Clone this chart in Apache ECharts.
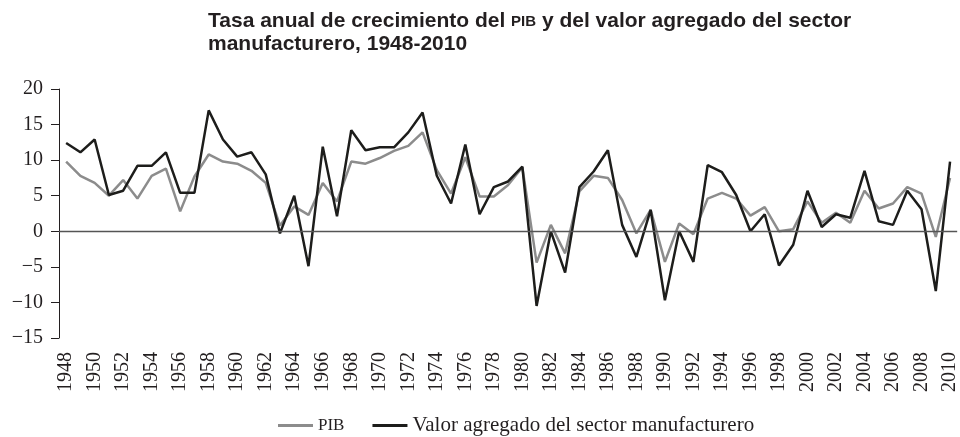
<!DOCTYPE html>
<html>
<head>
<meta charset="utf-8">
<script src="https://cdn.jsdelivr.net/npm/echarts@6/dist/echarts.min.js"></script>
<style>
  html, body { margin: 0; padding: 0; background: #ffffff; }
  #chart { width: 960px; height: 437px; }
</style>
</head>
<body>
<div id="chart"></div>
<script>
const years = [
  '1948', '1949', '1950', '1951', '1952', '1953', '1954', '1955', '1956', '1957',
  '1958', '1959', '1960', '1961', '1962', '1963', '1964', '1965', '1966', '1967',
  '1968', '1969', '1970', '1971', '1972', '1973', '1974', '1975', '1976', '1977',
  '1978', '1979', '1980', '1981', '1982', '1983', '1984', '1985', '1986', '1987',
  '1988', '1989', '1990', '1991', '1992', '1993', '1994', '1995', '1996', '1997',
  '1998', '1999', '2000', '2001', '2002', '2003', '2004', '2005', '2006', '2007',
  '2008', '2009', '2010'
];

// tasa anual del PIB (%)
const pib = [
  9.8, 7.8, 6.8, 5.0, 7.2, 4.6, 7.8, 8.8, 2.8, 7.7,
  10.8, 9.8, 9.5, 8.5, 6.8, 0.8, 3.5, 2.3, 6.8, 4.2,
  9.8, 9.5, 10.3, 11.3, 12.0, 13.9, 8.6, 5.3, 10.4, 4.9,
  4.9, 6.5, 9.0, -4.4, 0.9, -3.1, 5.6, 7.8, 7.5, 4.4,
  -0.3, 3.0, -4.3, 1.1, -0.4, 4.6, 5.4, 4.6, 2.2, 3.4,
  0.0, 0.3, 4.2, 1.2, 2.6, 1.2, 5.7, 3.2, 3.9, 6.2,
  5.3, -0.8, 7.5
];

// valor agregado del sector manufacturero (%)
const manufactura = [
  12.4, 11.1, 12.9, 5.1, 5.7, 9.2, 9.2, 11.1, 5.4, 5.4,
  17.0, 12.9, 10.5, 11.1, 8.0, -0.3, 5.0, -4.9, 11.9, 2.1,
  14.2, 11.4, 11.8, 11.8, 13.9, 16.7, 7.8, 3.9, 12.2, 2.4,
  6.2, 7.0, 9.1, -10.5, 0.0, -5.8, 6.2, 8.4, 11.4, 0.9,
  -3.6, 3.0, -9.7, 0.0, -4.3, 9.3, 8.3, 5.1, 0.0, 2.4,
  -4.8, -1.9, 5.7, 0.6, 2.4, 1.9, 8.5, 1.4, 0.9, 5.7,
  3.1, -8.4, 9.8
];

const serif = '"Liberation Serif", "DejaVu Serif", serif';
const sans = '"Liberation Sans", Arial, sans-serif';

const chart = echarts.init(document.getElementById('chart'));

chart.setOption({
  animation: false,
  backgroundColor: '#ffffff',
  title: {
    text: 'Tasa anual de crecimiento del {sc|PIB} y del valor agregado del sector\nmanufacturero, 1948-2010',
    left: 203,
    top: 5,
    textStyle: {
      fontFamily: sans,
      fontSize: 21,
      fontWeight: 'bold',
      color: '#231f20',
      lineHeight: 23,
      rich: {
        sc: { fontFamily: sans, fontSize: 15, fontWeight: 'bold', color: '#231f20', lineHeight: 23 }
      }
    }
  },
  legend: {
    top: 410,
    left: 273,
    icon: 'rect',
    itemWidth: 35,
    itemHeight: 3,
    itemGap: 28,
    textStyle: {
      fontFamily: serif,
      fontSize: 21,
      color: '#231f20',
      rich: {
        sc: { fontFamily: serif, fontSize: 17, color: '#231f20' }
      }
    },
    formatter: (name) => (name === 'PIB' ? '{sc|PIB}' : name)
  },
  grid: { left: 59, right: -3, top: 89, bottom: 99 },
  xAxis: {
    type: 'category',
    data: years,
    boundaryGap: true,
    axisLine: { show: false },
    axisTick: { show: false },
    axisLabel: {
      interval: 1,
      rotate: 90,
      margin: 14,
      fontFamily: serif,
      fontSize: 20,
      color: '#231f20'
    }
  },
  yAxis: {
    type: 'value',
    min: -15,
    max: 20,
    interval: 5,
    splitLine: { show: false },
    axisLine: { show: true, lineStyle: { color: '#231f20', width: 1 } },
    axisTick: { show: true, length: 8, lineStyle: { color: '#231f20' } },
    axisLabel: {
      margin: 16,
      fontFamily: serif,
      fontSize: 20,
      color: '#231f20',
      formatter: (v) => String(v).replace('-', '\u2212')
    }
  },
  series: [
    {
      name: 'PIB',
      type: 'line',
      data: pib,
      symbol: 'none',
      lineStyle: { color: '#8c8c8c', width: 2.5 },
      itemStyle: { color: '#8c8c8c' },
      z: 2,
      markLine: {
        silent: true,
        symbol: ['none', 'none'],
        label: { show: false },
        lineStyle: { color: '#555555', width: 1.3, type: 'solid' },
        data: [{ yAxis: 0 }]
      }
    },
    {
      name: 'Valor agregado del sector manufacturero',
      type: 'line',
      data: manufactura,
      symbol: 'none',
      lineStyle: { color: '#1d1d1b', width: 2.5 },
      itemStyle: { color: '#1d1d1b' },
      z: 3
    }
  ]
});
</script>
</body>
</html>
